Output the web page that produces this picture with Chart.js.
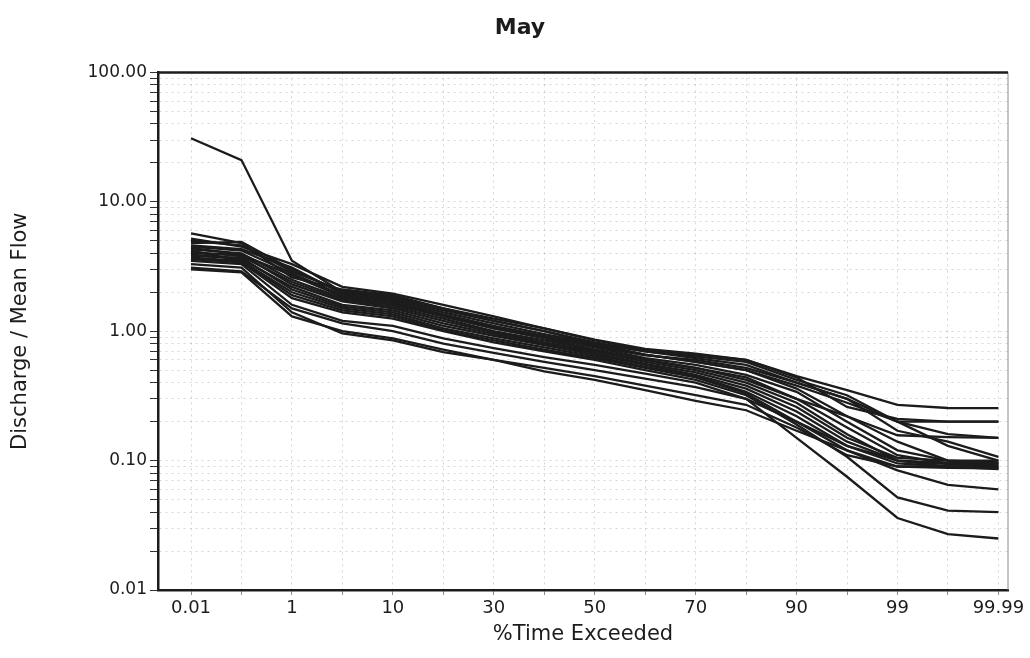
<!DOCTYPE html>
<html>
<head>
<meta charset="utf-8">
<title>May</title>
<script src="https://cdn.jsdelivr.net/npm/chart.js@4/dist/chart.umd.min.js"></script>
<style>
  body { margin: 0; background: #fff; }
  canvas { display: block; }
</style>
</head>
<body>
<canvas id="grafico" width="1030" height="658"></canvas>
<script>
// % of time exceeded (one category per point), labels only on every other one
const exceedance = ["0.01", "0.1", "1", "5", "10", "20", "30", "40", "50", "60", "70", "80", "90", "95", "99", "99.9", "99.99"];
const shownTicks = ["0.01", "1", "10", "30", "50", "70", "90", "99", "99.99"];
const yDecades = [0.01, 0.1, 1, 10, 100];

// discharge / mean flow, one array per year
const s01 = [31, 21, 3.5, 2.0, 1.7, 1.3, 1.05, 0.88, 0.72, 0.6, 0.52, 0.42, 0.3, 0.22, 0.14, 0.1, 0.095];
const s02 = [5.7, 4.8, 2.6, 2.1, 1.9, 1.5, 1.2, 1.0, 0.8, 0.66, 0.58, 0.5, 0.38, 0.28, 0.2, 0.2, 0.2];
const s03 = [5.2, 4.5, 3.3, 2.2, 1.95, 1.6, 1.3, 1.05, 0.85, 0.72, 0.66, 0.6, 0.45, 0.35, 0.27, 0.255, 0.254];
const s04 = [4.8, 4.9, 3.0, 2.0, 1.8, 1.45, 1.2, 1.0, 0.82, 0.7, 0.62, 0.55, 0.4, 0.3, 0.17, 0.14, 0.107];
const s05 = [4.5, 4.2, 2.8, 1.9, 1.7, 1.35, 1.1, 0.92, 0.78, 0.66, 0.58, 0.5, 0.36, 0.22, 0.157, 0.152, 0.15];
const s06 = [4.3, 4.0, 2.5, 1.8, 1.6, 1.3, 1.05, 0.9, 0.75, 0.62, 0.55, 0.46, 0.34, 0.2, 0.12, 0.1, 0.097];
const s07 = [4.1, 3.8, 2.4, 1.75, 1.55, 1.25, 1.0, 0.85, 0.72, 0.6, 0.52, 0.44, 0.3, 0.18, 0.11, 0.095, 0.092];
const s08 = [4.0, 3.9, 2.3, 1.7, 1.5, 1.2, 0.98, 0.82, 0.7, 0.58, 0.5, 0.4, 0.28, 0.16, 0.1, 0.09, 0.088];
const s09 = [3.9, 3.6, 2.2, 1.6, 1.45, 1.15, 0.95, 0.8, 0.68, 0.56, 0.48, 0.38, 0.26, 0.15, 0.105, 0.1, 0.1];
const s10 = [3.8, 3.7, 2.1, 1.55, 1.4, 1.1, 0.92, 0.78, 0.66, 0.55, 0.46, 0.36, 0.24, 0.14, 0.1, 0.094, 0.09];
const s11 = [4.2, 3.5, 2.0, 1.5, 1.35, 1.05, 0.88, 0.75, 0.64, 0.53, 0.45, 0.34, 0.22, 0.13, 0.095, 0.09, 0.086];
const s12 = [3.7, 3.5, 1.9, 1.45, 1.3, 1.02, 0.85, 0.72, 0.62, 0.52, 0.44, 0.33, 0.2, 0.12, 0.084, 0.065, 0.06];
const s13 = [3.6, 3.4, 1.8, 1.4, 1.25, 1.0, 0.82, 0.7, 0.6, 0.5, 0.42, 0.32, 0.19, 0.107, 0.052, 0.041, 0.04];
const s14 = [3.1, 2.9, 1.5, 1.15, 1.0, 0.8, 0.68, 0.58, 0.5, 0.43, 0.37, 0.3, 0.15, 0.075, 0.036, 0.027, 0.025];
const s15 = [3.0, 2.85, 1.3, 1.0, 0.88, 0.72, 0.6, 0.49, 0.42, 0.35, 0.29, 0.245, 0.17, 0.12, 0.09, 0.088, 0.087];
const s16 = [4.6, 4.3, 3.1, 1.95, 1.75, 1.4, 1.15, 0.95, 0.8, 0.7, 0.64, 0.58, 0.42, 0.32, 0.2, 0.16, 0.15];
const s17 = [4.4, 3.9, 2.7, 1.85, 1.65, 1.32, 1.08, 0.9, 0.76, 0.65, 0.6, 0.52, 0.4, 0.3, 0.2, 0.13, 0.1];
const s18 = [3.5, 3.3, 1.6, 1.2, 1.1, 0.88, 0.74, 0.63, 0.55, 0.47, 0.4, 0.3, 0.2, 0.13, 0.1, 0.096, 0.095];
const s19 = [5.0, 4.6, 2.9, 2.05, 1.85, 1.5, 1.25, 1.05, 0.86, 0.73, 0.67, 0.6, 0.44, 0.26, 0.21, 0.2, 0.2];
const s20 = [3.3, 3.1, 1.4, 0.96, 0.85, 0.69, 0.6, 0.52, 0.45, 0.38, 0.32, 0.27, 0.18, 0.11, 0.09, 0.09, 0.09];

const series = [s01, s02, s03, s04, s05, s06, s07, s08, s09, s10, s11, s12, s13, s14, s15, s16, s17, s18, s19, s20];

const fuente = "'DejaVu Sans', 'Liberation Sans', Arial, sans-serif";
const tinta = "#1c1c1c";
const rejilla = "rgba(0, 0, 0, 0.16)";

// top + right edge of the plot box, title nudged to the right like the scan
const marco = {
    id: "marco",
    afterLayout(chart) {
        const t = chart.titleBlock;
        if (t) { t.left = 0; t.right = 1040; }
    },
    beforeDatasetsDraw(chart) {
        const { ctx, chartArea: a } = chart;
        ctx.save();
        ctx.strokeStyle = "#8a8a8a";
        ctx.lineWidth = 1;
        ctx.beginPath();
        ctx.moveTo(a.right, a.top);
        ctx.lineTo(a.right, a.bottom);
        ctx.stroke();
        ctx.strokeStyle = tinta;
        ctx.lineWidth = 2.5;
        ctx.beginPath();
        ctx.moveTo(a.left, a.top);
        ctx.lineTo(a.right, a.top);
        ctx.stroke();
        ctx.restore();
    }
};

const ctx = document.getElementById("grafico").getContext("2d");
new Chart(ctx, {
    type: "line",
    data: {
        datasets: series.map((s, n) => ({
            label: "Serie " + (n + 1),
            data: s.map((v, i) => ({ x: i, y: v })),
            borderColor: tinta,
            borderWidth: 2.3,
            pointRadius: 0,
            tension: 0,
            fill: false
        }))
    },
    plugins: [marco],
    options: {
        responsive: false,
        animation: false,
        layout: { padding: { left: 0, right: 22, top: 0, bottom: 0 } },
        plugins: {
            legend: { display: false },
            tooltip: { enabled: false },
            title: {
                display: true,
                text: "May",
                color: tinta,
                font: { family: fuente, size: 22, weight: "bold" },
                padding: { top: 15, bottom: 31 }
            }
        },
        scales: {
            x: {
                type: "linear",
                min: -0.654,
                max: 16.19,
                afterFit: (scale) => { scale.height = 68; },
                ticks: {
                    stepSize: 1,
                    includeBounds: false,
                    autoSkip: false,
                    maxRotation: 0,
                    padding: 3,
                    color: tinta,
                    font: { family: fuente, size: 18 },
                    callback: (v) => {
                        const lab = exceedance[v];
                        return shownTicks.includes(lab) ? lab : "";
                    }
                },
                grid: {
                    color: rejilla,
                    tickColor: "#666",
                    tickBorderDash: [1, 0],
                    tickLength: 5
                },
                border: { display: true, color: tinta, width: 2.5, dash: [2, 4] },
                title: {
                    display: true,
                    text: "%Time Exceeded",
                    color: tinta,
                    font: { family: fuente, size: 21 },
                    padding: { top: 0, bottom: 11 }
                }
            },
            y: {
                type: "logarithmic",
                min: 0.01,
                max: 100,
                afterFit: (scale) => { scale.width = 158; },
                afterBuildTicks: (scale) => {
                    const t = [];
                    yDecades.slice(0, -1).forEach(d => {
                        for (let k = 1; k < 10; k++) t.push({ value: +(d * k).toPrecision(3) });
                    });
                    t.push({ value: yDecades[yDecades.length - 1] });
                    scale.ticks = t;
                },
                ticks: {
                    autoSkip: false,
                    padding: 3,
                    color: tinta,
                    font: { family: fuente, size: 17 },
                    callback: (v) => yDecades.includes(v) ? v.toFixed(2) : ""
                },
                grid: {
                    color: rejilla,
                    tickColor: "#333",
                    tickBorderDash: [1, 0],
                    tickLength: 8
                },
                border: { display: true, color: tinta, width: 2.5, dash: [2, 4] },
                title: {
                    display: true,
                    text: "Discharge / Mean Flow",
                    color: tinta,
                    font: { family: fuente, size: 21 },
                    padding: { top: 8, bottom: 0 }
                }
            }
        }
    }
});
</script>
</body>
</html>
